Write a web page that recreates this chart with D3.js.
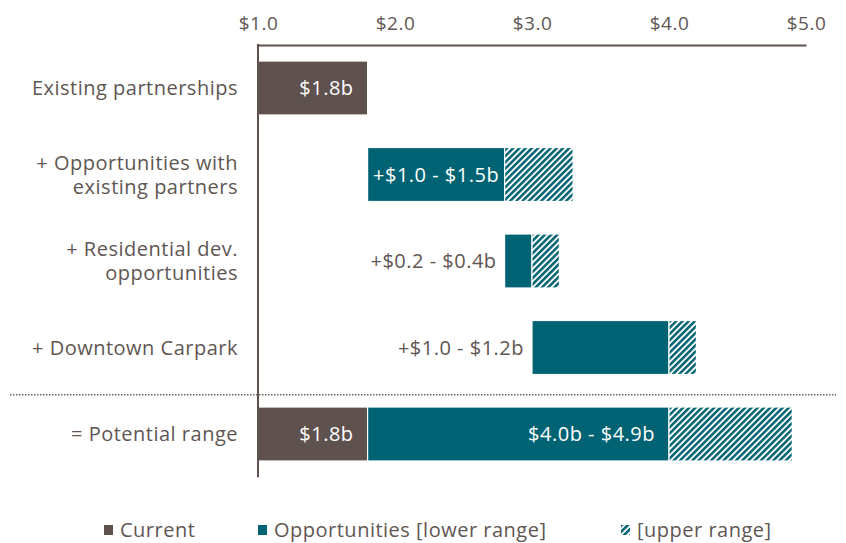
<!DOCTYPE html>
<html>
<head>
<meta charset="utf-8">
<script src="https://cdn.jsdelivr.net/npm/d3@7"></script>
<style>
  html, body { margin: 0; padding: 0; background: #fff; }
  svg text { font-family: "Open Sans", "DejaVu Sans", sans-serif; letter-spacing: 0.5px; }
</style>
</head>
<body>
<svg id="chart" width="846" height="543"></svg>
<script>
// ---- data ----
const categories = ["Existing partnerships", "+ Opportunities with existing partners", "+ Residential dev. opportunities", "+ Downtown Carpark", "= Potential range"];
const categoryLines = [["Existing partnerships"], ["+ Opportunities with", "existing partners"], ["+ Residential dev.", "opportunities"], ["+ Downtown Carpark"], ["= Potential range"]];
const baseValues    = [1.0, 1.8, 2.8, 3.0, 1.0];   // invisible offset (start of each bar)
const currentValues = [0.8, 0, 0, 0, 0.8];         // $1.0 -> $1.8
const lowerValues   = [0, 1.0, 0.2, 1.0, 2.2];
const upperValues   = [0, 0.5, 0.2, 0.2, 0.9];
const currentLabels = ["$1.8b", "", "", "", "$1.8b"];
const lowerLabels   = ["", "+$1.0 - $1.5b", "+$0.2 - $0.4b", "+$1.0 - $1.2b", "$4.0b - $4.9b"];
const lowerLabelInside = [false, true, false, false, true];
const tickValues = [1.0, 2.0, 3.0, 4.0, 5.0];
const legendLabels = ["Current", "Opportunities [lower range]", "[upper range]"];

// ---- styles ----
const C_CURRENT = "#5f524e";
const C_TEAL = "#006373";
const C_TEXT = "#5f5653";
const C_AXIS = "#5f524e";
const FS = 20;

const svg = d3.select("#chart");
const defs = svg.append("defs");
const pat = defs.append("pattern")
  .attr("id", "hatch").attr("patternUnits", "userSpaceOnUse")
  .attr("width", 4.4).attr("height", 4.4)
  .attr("patternTransform", "rotate(45)");
pat.append("rect").attr("width", 4.4).attr("height", 4.4).attr("fill", "#fff");
pat.append("rect").attr("width", 2.5).attr("height", 4.4).attr("fill", C_TEAL);

const x = d3.scaleLinear().domain([1, 5]).range([258, 806]);
const y = d3.scaleBand().domain(categories).range([44.75, 477.25])
  .paddingInner(0.376).paddingOuter(0.188);

const rows = categories.map((c, i) => ({
  cat: c, base: baseValues[i], current: currentValues[i], lower: lowerValues[i], upper: upperValues[i]
}));
const keys = ["base", "current", "lower", "upper"];
const stacked = d3.stack().keys(keys)(rows);
const fills = { current: C_CURRENT, lower: C_TEAL, upper: "url(#hatch)" };

// bars
stacked.filter(s => s.key !== "base").forEach(series => {
  svg.append("g").selectAll("rect")
    .data(series.filter(d => d[1] - d[0] > 0))
    .join("rect")
    .attr("x", d => x(d[0]))
    .attr("y", d => y(d.data.cat))
    .attr("width", d => x(d[1]) - x(d[0]))
    .attr("height", y.bandwidth())
    .attr("fill", fills[series.key])
    .attr("stroke", "#fff")
    .attr("stroke-width", 1.2);
});

// axis (top)
const axis = d3.axisTop(x).tickValues(tickValues)
  .tickFormat(d => "$" + d3.format(".1f")(d)).tickSize(0).tickPadding(15);
const ag = svg.append("g").attr("transform", "translate(0,45)").call(axis);
ag.select(".domain").attr("stroke", C_AXIS).attr("stroke-width", 2);
ag.selectAll("text").attr("fill", C_TEXT).attr("font-size", 19)
  .style("font-family", "'Open Sans', 'DejaVu Sans', sans-serif")
  .style("letter-spacing", "0.5px");

// vertical axis line
svg.append("line").attr("x1", x(1)).attr("x2", x(1))
  .attr("y1", 44).attr("y2", y.range()[1])
  .attr("stroke", C_AXIS).attr("stroke-width", 2);

// dotted separator
const sepY = (y(categories[3]) + y.bandwidth() + y(categories[4])) / 2 + 4;
svg.append("line").attr("x1", 10).attr("x2", 836).attr("y1", sepY).attr("y2", sepY)
  .attr("stroke", "#6b6360").attr("stroke-width", 1.5).attr("stroke-dasharray", "1.5,1.5");

// category labels
const catG = svg.append("g");
categories.forEach((c, i) => {
  const lines = categoryLines[i];
  const cy = y(c) + y.bandwidth() / 2;
  const lh = 24;
  const t = catG.append("text").attr("text-anchor", "end").attr("fill", C_TEXT).attr("font-size", FS);
  lines.forEach((ln, j) => {
    t.append("tspan").attr("x", 238)
      .attr("y", cy + (j - (lines.length - 1) / 2) * lh)
      .attr("dy", "0.35em").text(ln);
  });
});

// bar labels
const labG = svg.append("g").attr("font-size", FS);
rows.forEach((r, i) => {
  const cy = y(r.cat) + y.bandwidth() / 2;
  if (currentLabels[i]) {
    labG.append("text").attr("x", x(r.base + r.current) - 14).attr("y", cy).attr("dy", "0.35em")
      .attr("text-anchor", "end").attr("fill", "#fff").text(currentLabels[i]);
  }
  if (lowerLabels[i]) {
    const s = r.base + r.current, e = s + r.lower;
    if (lowerLabelInside[i]) {
      const t = labG.append("text").attr("y", cy).attr("dy", "0.35em")
        .attr("text-anchor", "end").attr("fill", "#fff").text(lowerLabels[i]);
      const tw = t.node().getComputedTextLength();
      const pad = Math.min(14, ((x(e) - x(s)) - tw) / 2);
      t.attr("x", x(e) - pad);
    } else {
      labG.append("text").attr("x", x(s) - 8).attr("y", cy).attr("dy", "0.35em")
        .attr("text-anchor", "end").attr("fill", C_TEXT).text(lowerLabels[i]);
    }
  }
});

// legend
const legY = 530;
const legX = [104, 258, 621];
const legFill = [C_CURRENT, C_TEAL, "url(#hatch)"];
legendLabels.forEach((lab, i) => {
  svg.append("rect").attr("x", legX[i]).attr("y", legY - 5).attr("width", 9).attr("height", 10)
    .attr("fill", legFill[i]);
  svg.append("text").attr("x", legX[i] + 16).attr("y", legY).attr("dy", "0.35em")
    .attr("fill", C_TEXT).attr("font-size", FS).text(lab);
});
</script>
</body>
</html>
